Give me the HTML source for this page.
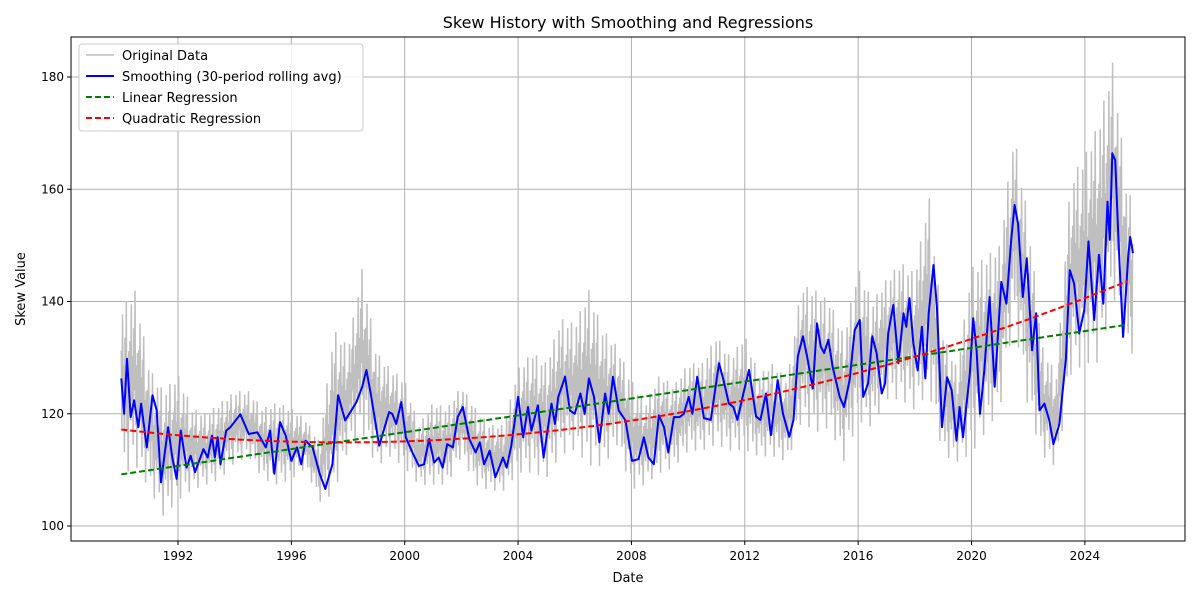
<!DOCTYPE html>
<html><head><meta charset="utf-8"><style>
body{margin:0;background:#fff;font-family:"Liberation Sans","DejaVu Sans",sans-serif;}
svg text{font-family:"DejaVu Sans","Liberation Sans",sans-serif;}
</style></head><body>
<svg id="chart" width="1200" height="600" xmlns="http://www.w3.org/2000/svg">
<rect width="1200" height="600" fill="#fff"/>
<text x="628" y="28" text-anchor="middle" font-size="16">Skew History with Smoothing and Regressions</text>
<g id="grid"></g><g id="series"></g>
<rect x="71" y="37" width="1114" height="504" fill="none" stroke="#000" stroke-width="1"/>
<g id="ticks"></g>
<text x="628" y="582" text-anchor="middle" font-size="13">Date</text>
<text transform="translate(25,289) rotate(-90)" text-anchor="middle" font-size="13">Skew Value</text>
<g>
<rect x="79" y="44" width="284" height="87" rx="3" fill="#fff" fill-opacity="0.85" stroke="#ccc"/>
<line x1="86" y1="55" x2="114" y2="55" stroke="#bfbfbf" stroke-width="1.5"/>
<text x="122" y="60" font-size="13">Original Data</text>
<line x1="86" y1="76" x2="114" y2="76" stroke="#0000ff" stroke-width="2"/>
<text x="122" y="81" font-size="13">Smoothing (30-period rolling avg)</text>
<line x1="86" y1="97" x2="114" y2="97" stroke="#008000" stroke-width="2" stroke-dasharray="6,3"/>
<text x="122" y="102" font-size="13">Linear Regression</text>
<line x1="86" y1="118" x2="114" y2="118" stroke="#ff0000" stroke-width="2" stroke-dasharray="6,3"/>
<text x="122" y="123" font-size="13">Quadratic Regression</text>
</g>
</svg>
<script>
const xTicks=[1992,1996,2000,2004,2008,2012,2016,2020,2024];
const yTicks=[100,120,140,160,180];
const rawStart=1990.0, rawStep=0.5;
const rawHigh=[139,142,128,124,127,121,120,122,124,124,121,122,121,119,115,135,132,146,131,128,126,118,122,121,125,121,118,118,128,131,129,137,136,142,135,132,126,122,127,125,129,129,134,130,134,127,129,126,143,142,140,134,146,140,144,147,145,159,134,128,146,148,150,170,155,132,127,162,166,172,183,159];
const rawLow=[108,110,106,101,104,106,107,108,111,112,108,107,108,110,104,105,113,116,110,112,110,107,107,107,112,107,106,106,109,109,108,112,113,110,110,114,106,107,109,110,113,113,114,113,113,112,112,111,118,116,117,111,118,117,122,122,120,123,112,111,112,116,120,136,120,112,110,126,128,128,140,130];
const smoothDates=[1990.0,1990.1,1990.2,1990.33,1990.45,1990.6,1990.7,1990.9,1991.1,1991.25,1991.4,1991.65,1991.8,1991.95,1992.1,1992.3,1992.45,1992.6,1992.9,1993.05,1993.2,1993.3,1993.4,1993.5,1993.7,1993.85,1994.2,1994.5,1994.8,1995.1,1995.25,1995.4,1995.6,1995.8,1996.0,1996.2,1996.35,1996.5,1996.75,1997.0,1997.2,1997.45,1997.65,1997.9,1998.3,1998.5,1998.65,1998.8,1999.1,1999.45,1999.56,1999.7,1999.88,2000.04,2000.27,2000.5,2000.68,2000.86,2001.04,2001.2,2001.34,2001.5,2001.7,2001.87,2002.05,2002.28,2002.5,2002.65,2002.8,2003.0,2003.2,2003.47,2003.6,2003.76,2004.0,2004.18,2004.35,2004.47,2004.7,2004.9,2005.18,2005.3,2005.42,2005.66,2005.83,2006.0,2006.2,2006.35,2006.5,2006.68,2006.87,2007.07,2007.2,2007.35,2007.55,2007.79,2008.02,2008.25,2008.44,2008.6,2008.79,2008.97,2009.15,2009.3,2009.5,2009.7,2009.85,2010.02,2010.15,2010.32,2010.56,2010.8,2011.09,2011.25,2011.44,2011.6,2011.74,2011.95,2012.15,2012.4,2012.55,2012.75,2012.92,2013.16,2013.35,2013.57,2013.72,2013.87,2014.05,2014.2,2014.4,2014.55,2014.68,2014.8,2014.95,2015.1,2015.35,2015.5,2015.7,2015.88,2016.06,2016.18,2016.35,2016.5,2016.65,2016.83,2016.95,2017.06,2017.24,2017.42,2017.6,2017.7,2017.81,2017.95,2018.1,2018.25,2018.37,2018.49,2018.66,2018.78,2018.96,2019.14,2019.3,2019.47,2019.58,2019.7,2019.94,2020.06,2020.18,2020.3,2020.45,2020.64,2020.82,2021.05,2021.23,2021.4,2021.52,2021.64,2021.81,2021.95,2022.14,2022.28,2022.4,2022.57,2022.75,2022.89,2023.1,2023.33,2023.47,2023.62,2023.8,2023.98,2024.13,2024.33,2024.5,2024.65,2024.8,2024.88,2024.97,2025.07,2025.2,2025.35,2025.53,2025.6,2025.7];
const smoothValues=[126.3,120,129.8,119.4,122.4,117.6,121.8,114,123.3,120.6,107.8,117.6,112.2,108.4,117,110.4,112.5,109.6,113.7,112.2,116.1,112.2,115.8,111,117,117.6,119.9,116.4,116.7,114,117,109.3,118.5,116.1,111.6,114,111,115.2,114,109.3,106.6,111,123.3,118.8,122.1,124.8,127.8,123.6,114.3,120.3,120,118.2,122.1,115.8,113.1,110.7,111,115.5,111.3,112.2,110.4,114.6,114,119.4,121.2,115.5,113.1,114.9,111,113.4,108.7,112.2,110.4,114.3,123,115.8,121.2,117,121.5,112.2,121.8,118.2,123,126.6,120.6,120,123.6,120,126.3,123,114.9,123.6,120,126.6,120.6,118.8,111.6,111.9,115.8,112.2,111,119.7,117.6,113.1,119.4,119.4,120,123,120,126.6,119.2,118.9,129,126,121.8,121.2,118.9,123.6,127.8,119.5,118.9,123.6,116.2,126,120,115.9,118.9,130.2,133.8,130.2,124.5,136.1,132,130.8,133.2,128.4,123,121.2,126,134.9,136.7,123,125.4,133.8,130.8,123.6,125.4,134.3,139.4,129,137.9,135.5,140.6,132.5,127.7,135.5,126.3,137.9,146.5,139.1,117.6,126.5,124.2,115.2,121.2,115.8,127.1,137,131.3,120,127.7,140.8,124.8,143.5,139.6,151,157.2,153.9,140.8,147.7,131.3,137.9,120.6,121.8,118.8,114.6,118.2,129.8,145.6,143.2,134.3,138.5,150.7,136.7,148.3,139.6,157.8,151,166.4,165.2,149.2,133.7,148,151.5,148.6];
const linearCoef=[109.2,0.751];          // intercept, slope (per year since 1990)
const quadCoef=[117.2,-0.587,0.0375];    // c, b, a
const fitRange=[1990.0,2025.7];

const X0=71,X1=1185,Y0=37,Y1=541;
const xs=yr=>121.3+(yr-1990)*28.34;
const ys=v=>526-(v-100)*5.6125;
const NS="http://www.w3.org/2000/svg";
function mk(tag,attrs,parent){const e=document.createElementNS(NS,tag);for(const k in attrs)e.setAttribute(k,attrs[k]);parent.appendChild(e);return e;}
const grid=document.getElementById('grid'),ticks=document.getElementById('ticks'),series=document.getElementById('series');
xTicks.forEach(t=>{const x=xs(t);
 const g=mk('line',{x1:x,x2:x,y1:Y0,y2:Y1,stroke:'#b0b0b0','stroke-width':1},grid);
 
 
 mk('line',{x1:x,x2:x,y1:Y1,y2:Y1+4,stroke:'#000'},ticks);
 const l=mk('text',{x:x,y:Y1+19,'text-anchor':'middle','font-size':12},ticks);l.textContent=t;
 
 });
yTicks.forEach(t=>{const y=ys(t);
 const g=mk('line',{x1:X0,x2:X1,y1:y,y2:y,stroke:'#b0b0b0','stroke-width':1},grid);
 
 
 mk('line',{x1:X0-4,x2:X0,y1:y,y2:y,stroke:'#000'},ticks);
 const l=mk('text',{x:X0-7,y:y+4,'text-anchor':'end','font-size':12},ticks);l.textContent=t;
 
 });
let pts=[];const sub=0.022;
for(let yr=rawStart,k=0;yr<=rawStart+(rawHigh.length-1)*rawStep+0.2;yr+=sub,k++){
 let f=(yr-rawStart)/rawStep,i=Math.min(Math.floor(f),rawHigh.length-2),r=Math.min(f-i,1);
 const hi=rawHigh[i]+(rawHigh[i+1]-rawHigh[i])*r, lo=rawLow[i]+(rawLow[i+1]-rawLow[i])*r;
 const mid=(hi+lo)/2,amp=(hi-lo)/2;const fac=[0.5,-0.4,0.9,-0.2,0.3,-0.7,0.6,-0.1,1,-0.5,0.2,-0.95,0.4,-0.3][k%14];
 pts.push(xs(yr).toFixed(1)+','+ys(mid+amp*fac).toFixed(1));}
const raw=mk('polyline',{points:pts.join(' '),fill:'none',stroke:'#bfbfbf','stroke-width':1.5},series);


const sm=mk('polyline',{points:smoothDates.map((d,i)=>xs(d).toFixed(1)+','+ys(smoothValues[i]).toFixed(1)).join(' '),fill:'none',stroke:'#0000ff','stroke-width':2,'stroke-linejoin':'round'},series);


let lp=[],qp=[];
for(let yr=fitRange[0];yr<=fitRange[1]+1e-6;yr+=0.25){const t=yr-1990;
 lp.push(xs(yr).toFixed(1)+','+ys(linearCoef[0]+linearCoef[1]*t).toFixed(1));
 qp.push(xs(yr).toFixed(1)+','+ys(quadCoef[0]+quadCoef[1]*t+quadCoef[2]*t*t).toFixed(1));}
const ln=mk('polyline',{points:lp.join(' '),fill:'none',stroke:'#008000','stroke-width':2,'stroke-dasharray':'6,3'},series);


const qd=mk('polyline',{points:qp.join(' '),fill:'none',stroke:'#ff0000','stroke-width':2,'stroke-dasharray':'6,3'},series);


</script>
</body></html>
